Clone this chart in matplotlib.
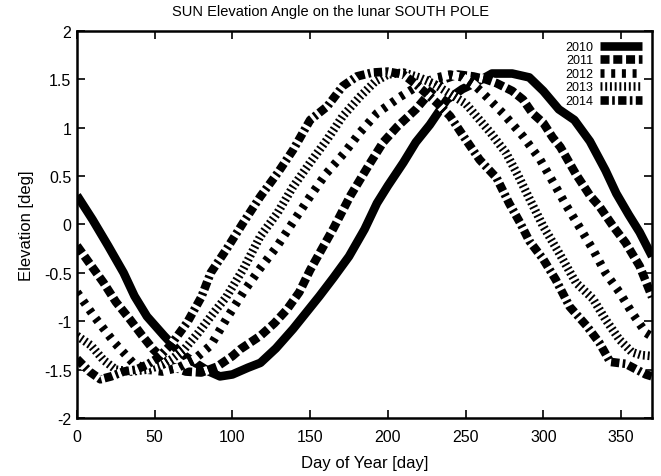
import matplotlib
matplotlib.use('Agg')
import matplotlib.pyplot as plt
from matplotlib.ticker import MultipleLocator, FuncFormatter

plt.rcParams['font.family'] = ['Liberation Sans', 'DejaVu Sans']
plt.rcParams['axes.unicode_minus'] = False
plt.rcParams['lines.scale_dashes'] = False

# elevation of the sun [deg], one pair of lists per year
day_2010 = [0, 10, 20, 30, 37, 45, 56, 66, 75, 85, 92, 100, 110, 118, 128, 139, 148, 156, 165,
            175, 185, 193, 200, 210, 218, 227, 238, 248, 257, 267, 280, 291, 300, 310, 320,
            330, 340, 347, 355, 362, 370]
elev_2010 = [0.30, 0.05, -0.22, -0.50, -0.74, -0.95, -1.15, -1.32, -1.42, -1.52, -1.57, -1.55,
             -1.48, -1.43, -1.28, -1.08, -0.90, -0.74, -0.55, -0.33, -0.05, 0.22, 0.40, 0.64,
             0.85, 1.03, 1.29, 1.40, 1.47, 1.56, 1.56, 1.52, 1.38, 1.19, 1.08, 0.86, 0.56,
             0.32, 0.10, -0.08, -0.33]

day_2011 = [0, 8, 17, 25, 34, 42, 49, 60, 70, 80, 90, 100, 105, 118, 127, 135, 143, 150, 158,
            165, 176, 188, 197, 206, 218, 227, 234, 245, 255, 263, 270, 280, 287, 293, 300,
            306, 311, 321, 330, 336, 345, 353, 362, 370]
elev_2011 = [-0.22, -0.40, -0.60, -0.80, -0.98, -1.15, -1.29, -1.46, -1.52, -1.53, -1.47, -1.36,
             -1.29, -1.15, -1.02, -0.88, -0.70, -0.47, -0.24, -0.04, 0.30, 0.62, 0.85, 1.01,
             1.19, 1.36, 1.49, 1.55, 1.53, 1.50, 1.46, 1.38, 1.29, 1.15, 1.05, 0.90, 0.80,
             0.52, 0.30, 0.19, -0.02, -0.19, -0.43, -0.75]

day_2012 = [0, 11, 24, 36, 45, 55, 65, 75, 86, 96, 107, 118, 129, 140, 150, 160, 172, 182, 193,
            208, 222, 232, 240, 248, 255, 261, 274, 287, 298, 308, 315, 323, 332, 340, 349,
            357, 366, 370]
elev_2012 = [-0.70, -0.95, -1.22, -1.43, -1.50, -1.52, -1.48, -1.40, -1.25, -0.98, -0.70, -0.45,
             -0.22, 0.05, 0.29, 0.52, 0.74, 0.95, 1.15, 1.32, 1.46, 1.52, 1.55, 1.52, 1.45,
             1.36, 1.15, 0.91, 0.67, 0.39, 0.19, -0.02, -0.26, -0.50, -0.70, -0.91, -1.12,
             -1.16]

day_2013 = [0, 9, 17, 25, 35, 45, 55, 62, 69, 78, 88, 96, 107, 118, 129, 139, 150, 161, 171,
            182, 192, 200, 210, 220, 230, 240, 250, 258, 266, 276, 284, 291, 300, 310, 321,
            332, 340, 349, 357, 363, 370]
elev_2013 = [-1.15, -1.25, -1.40, -1.50, -1.52, -1.50, -1.45, -1.38, -1.29, -1.12, -0.91, -0.75,
             -0.46, -0.12, 0.12, 0.39, 0.64, 0.88, 1.12, 1.32, 1.48, 1.55, 1.57, 1.52, 1.45,
             1.35, 1.25, 1.10, 0.95, 0.74, 0.50, 0.27, -0.02, -0.29, -0.60, -0.77, -0.98,
             -1.19, -1.32, -1.35, -1.36]

day_2014 = [0, 8, 15, 22, 30, 38, 45, 52, 60, 66, 71, 80, 86, 96, 107, 118, 129, 139, 150, 161,
            171, 180, 190, 200, 210, 218, 225, 232, 240, 250, 259, 270, 278, 285, 291, 300,
            308, 317, 328, 336, 343, 353, 366, 370]
elev_2014 = [-1.39, -1.52, -1.60, -1.57, -1.52, -1.50, -1.45, -1.38, -1.25, -1.12, -1.01, -0.75,
             -0.50, -0.26, 0.02, 0.29, 0.53, 0.77, 1.08, 1.22, 1.43, 1.53, 1.57, 1.58, 1.55,
             1.45, 1.35, 1.25, 1.12, 0.88, 0.67, 0.48, 0.22, 0.02, -0.17, -0.36, -0.57,
             -0.85, -1.05, -1.22, -1.42, -1.44, -1.55, -1.57]

years = ['2010', '2011', '2012', '2013', '2014']
series = [(day_2010, elev_2010), (day_2011, elev_2011), (day_2012, elev_2012),
          (day_2013, elev_2013), (day_2014, elev_2014)]

# dash patterns in points (gnuplot-like)
dashes = [None, (6.5, 2.7), (2.9, 4.8), (1.4, 2.0), (6.0, 2.4, 1.9, 2.4)]

fig = plt.figure(figsize=(6.61, 4.77), dpi=100)
ax = fig.add_axes([0.1165, 0.1216, 0.87, 0.8114])

for (d, e), yr, ds in zip(series, years, dashes):
    if ds is None:
        ax.plot(d, e, color='black', lw=6.2, solid_capstyle='butt', label=yr)
    else:
        ax.plot(d, e, color='black', lw=6.2, dashes=ds, gapcolor='white',
                dash_capstyle='butt', label=yr)

ax.set_xlim(0, 370)
ax.set_ylim(-2, 2)
ax.xaxis.set_major_locator(MultipleLocator(50))
ax.yaxis.set_major_locator(MultipleLocator(0.5))
ax.yaxis.set_major_formatter(FuncFormatter(lambda v, p: '%g' % v))
ax.tick_params(direction='in', length=6, width=1.2, top=True, right=True, labelsize=11.5)
ax.tick_params(axis='x', pad=8)
ax.tick_params(axis='y', pad=4)
for sp in ax.spines.values():
    sp.set_linewidth(1.8)

fig.text(0.5, 0.975, 'SUN Elevation Angle on the lunar SOUTH POLE', fontsize=10.5,
         ha='center', va='center')
ax.set_xlabel('Day of Year [day]', fontsize=12, labelpad=8)
ax.set_ylabel('Elevation [deg]', fontsize=12, labelpad=7)

leg = ax.legend(loc='upper right', frameon=False, markerfirst=False, fontsize=9,
                handlelength=3.4, handletextpad=0.5, labelspacing=0.12,
                borderaxespad=0.4)

plt.savefig('out.png', dpi=100)
